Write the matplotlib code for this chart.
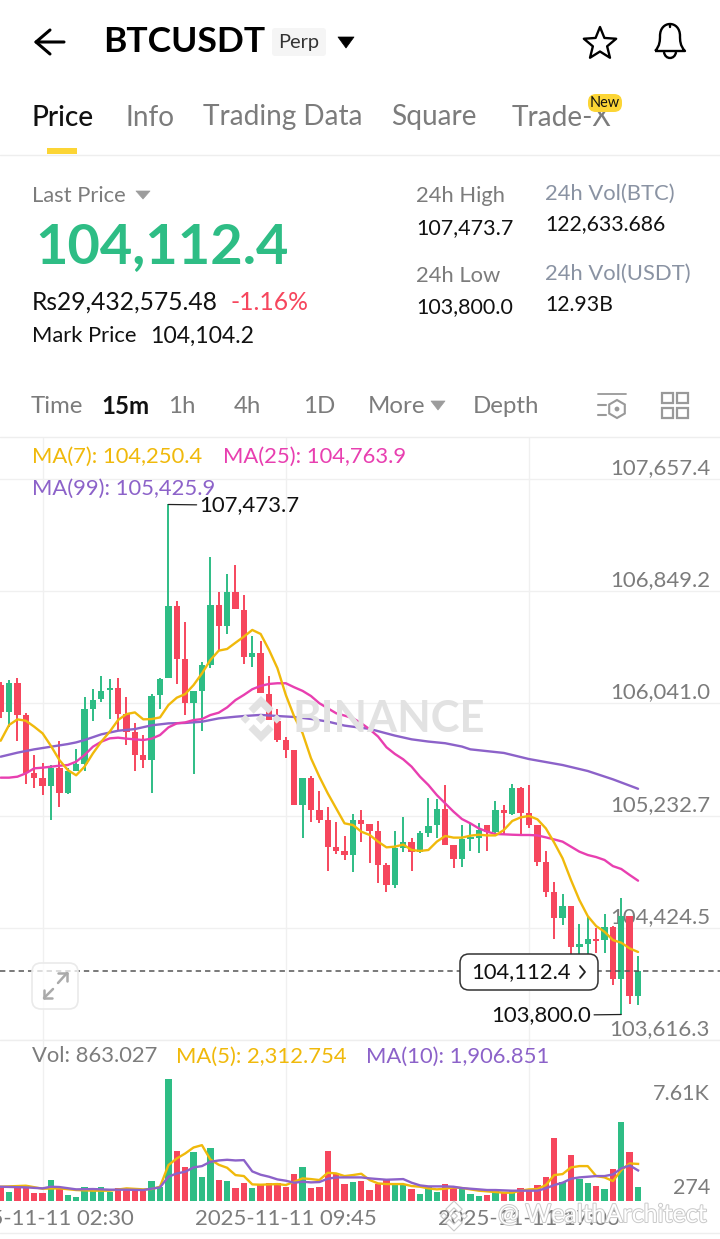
import numpy as np
import matplotlib
matplotlib.use("Agg")
import matplotlib.pyplot as plt
from matplotlib.patches import FancyBboxPatch, Polygon, PathPatch, Circle
from matplotlib.path import Path
import matplotlib.patheffects as pe

plt.rcParams['font.family'] = ['Lato', 'DejaVu Sans']

# ---------- data ----------
opens = [106173,105981,106190,105955,105542,105501,105446,105578,105398,105554,105604,106000,106070,106137,106154,105964,105837,105669,105631,106099,
         106221,106740,106361,106046,106130,106317,106747,106598,106843,106716,106375,106404,106109,105917,105778,105706,105312,105502,105273,105199,
         105007,104980,104949,105199,105175,105122,104875,104733,105002,105045,104973,105105,105165,105283,105021,104918,105066,105074,105165,105117,
         105275,105244,105431,105249,105162,104898,104682,104497,104584,104288,104308,104344,104336,104432,104053,104512,103933]
highs = [106197,106209,106221,105969,105669,105609,105597,105772,105573,105710,106084,106147,106238,106219,106226,106089,105897,105813,106108,106221,
         107473.7,106778,106630,106128,106341,107098,106843,106970,107040,106822,106527,106493,106239,106001,105797,105706,105502,105518,105408,105295,
         105187,105086,105245,105273,105175,105192,104894,105122,105223,105074,105120,105360,105350,105451,105021,105163,105172,105177,105165,105340,
         105309,105460,105436,105455,105162,104980,104754,104665,104584,104452,104509,104420,104521,104440,104637,104512,104221]
lows = [105933,105873,105772,105458,105434,105379,105201,105297,105388,105554,105556,105916,106053,105926,105844,105741,105556,105573,105398,105998,
        106221,106181,105955,105532,105844,106293,106425,106541,106718,106325,106301,106114,105919,105766,105650,105312,105069,105185,105177,104836,
        104956,104913,104829,105040,104894,104750,104683,104714,104968,104836,104961,105081,105069,105021,104853,104865,104978,104961,104978,105093,
        105093,105237,105093,105146,104869,104644,104341,104444,104163,104228,104192,104240,104240,104012,103800.0,103873,103868]
closes = [105981,106190,105955,105542,105503,105446,105578,105398,105554,105604,106000,106065,106132,106152,105964,105837,105669,105633,106096,106217,
          106740,106363,106046,106128,106317,106747,106596,106843,106718,106375,106404,106114,105919,105778,105708,105312,105502,105276,105201,105009,
          104980,104949,105199,105175,105122,104880,104733,105002,105045,104973,105105,105160,105283,105021,104918,105064,105081,105129,105117,105275,
          105249,105431,105254,105165,104901,104682,104497,104584,104288,104305,104344,104332,104428,104053,104512,103933,104112.4]

ma7 = [105772,105885,105926,105916,105873,105825,105734,105633,105561,105523,105585,105681,105765,105837,105921,105964,105976,105926,105928,105940,
       106029,106082,106108,106173,106257,106353,106421,106433,106478,106522,106570,106541,106426,106294,106102,105946,105826,105646,105513,105393,
       105285,105177,105165,105117,105093,105045,105004,105009,105024,104985,104978,104985,105045,105086,105074,105074,105088,105095,105090,105090,
       105129,105194,105220,105230,105206,105141,105038,104925,104769,104625,104509,104437,104396,104336,104317,104276,104250.4]
ma25 = [105506,105506,105513,105537,105573,105578,105585,105592,105597,105621,105669,105729,105765,105789,105794,105787,105782,105777,105787,105813,
        105868,105897,105904,105921,105928,105957,105974,106012,106065,106102,106143,106167,106181,106186,106186,106157,106131,106094,106042,106006,
        105970,105953,105934,105898,105854,105802,105725,105677,105638,105585,105513,105453,105381,105321,105261,105208,105177,105141,105117,105100,
        105098,105095,105093,105093,105090,105076,105061,105045,105009,104973,104949,104934,104913,104869,104848,104805,104763.9]
ma99_idx = [0,2,4,6,8,9,10,12,14,16,18,20,22,24,26,28,29,31,33,35,37,39,41,44,47,49,51,53,55,56,60,63,67,70,73,76]
ma99 = [105657,105686,105710,105729,105748,105760,105777,105818,105844,105856,105883,105897,105900,105909,105933,105945,105950,105958,105950,105943,
        105929,105910,105881,105857,105809,105782,105766,105754,105730,105710,105684,105640,105597,105554,105494,105425.9]

volumes = [891,580,891,974,477,518,1306,850,394,269,850,726,850,560,788,788,684,643,1265,850,
           7610,3089,2094,3047,1472,3296,1285,1244,808,1099,788,995,1099,1099,891,1658,2114,829,891,3089,
           1679,1036,1202,1223,684,1036,1306,1036,995,726,435,850,560,1036,891,788,456,332,394,726,
           580,643,808,643,995,1513,3918,1202,2861,1389,1119,954,767,1990,4934,3027,863.027]
ma5_idx = [0,3,5,7,9,11,13,15,17,18,19,20,21,22,23,24,25,26,27,28,29,30,31,32,33,34,35,36,37,38,39,40,41,42,43,44,45,46,48,49,50,51,52,53,54,55,56,57,58,59,60,61,62,63,64,65,66,67,68,69,70,71,72,73,74,75,76]
ma5 = [891,954,767,788,684,643,643,788,726,746,891,2239,2653,2964,3338,3483,2591,2260,2073,1617,1555,1036,1016,1036,1057,995,1202,1410,1368,1306,1762,1721,1555,1617,1700,1306,1099,1057,1057,933,891,788,726,767,850,808,726,643,601,560,518,518,643,726,746,995,1617,1679,2094,2177,2177,1555,1472,1244,1928,2343,2312.754]
ma10_idx = [0,3,5,6,7,9,11,13,15,17,19,20,21,22,23,24,25,26,27,28,29,30,31,32,33,34,35,36,37,38,39,40,43,44,45,46,47,48,49,50,51,53,54,55,56,57,58,59,60,61,64,65,66,67,68,69,70,71,72,73,74,75,76]
ma10 = [891,850,788,891,871,726,746,705,705,684,850,1513,1721,1824,2094,2177,2446,2529,2571,2529,2550,1845,1638,1513,1347,1265,1140,1202,1161,1182,1389,1472,1472,1410,1368,1327,1347,1368,1140,974,912,912,891,808,767,726,684,684,663,643,643,788,995,1140,1389,1472,1513,1555,1555,1658,2032,2218,1906.851]

price_ticks = [107657.4, 106849.2, 106041.0, 105232.7, 104424.5, 103616.3]
vol_tick_labels = ["7.61K", "274"]
date_tick_idx = [5, 34, 63]
date_labels = ["2025-11-11 02:30", "2025-11-11 09:45", "2025-11-11 17:00"]
last_price = 104112.4
high_price = 107473.7
low_price = 103800.0

GREEN = '#2ebd85'; RED = '#f6465d'; YELLOW = '#f0b90b'; PINK = '#e83fb0'; PURPLE = '#8c62c9'
GRAY = '#7c7c7c'; GRID = '#f0f0f0'

W, H = 720, 1239
fig = plt.figure(figsize=(W/100, H/100), dpi=100, facecolor='white')

def box(top, bottom):
    return [0, 1 - bottom/H, 1, (bottom-top)/H]

# ---------- price axes ----------
xlim = (-0.08, 85.77)
y_per_px = 808.2/112.2
ax = fig.add_axes(box(437, 1040), facecolor='none')
ax.set_xlim(*xlim)
ax.set_ylim(103616.3, 103616.3 + 603*y_per_px)
x = np.arange(len(closes))
colors = [GREEN if c >= o else RED for o, c in zip(opens, closes)]
for t in price_ticks:
    ax.axhline(t, color=GRID, lw=1, zorder=1)
for t in date_tick_idx:
    ax.axvline(t, color=GRID, lw=1, zorder=1)
for t in price_ticks:
    ax.annotate(f"{t:,.1f}", (1, t), xycoords=('axes fraction', 'data'), xytext=(-10/1.389, 11/1.389),
                textcoords='offset points', ha='right', va='center', fontsize=15.9, color=GRAY, zorder=2)
ax.vlines(x, lows, highs, colors=colors, lw=1.4, zorder=3)
body_bottom = np.minimum(opens, closes)
body_height = np.maximum(np.abs(np.array(closes)-np.array(opens)), 4)
ax.bar(x, body_height, bottom=body_bottom, width=0.76, color=colors, zorder=4)
ax.plot(ma99_idx, ma99, color=PURPLE, lw=1.7, zorder=5, solid_capstyle='round')
ax.plot(x, ma25, color=PINK, lw=1.7, zorder=6, solid_capstyle='round')
ax.plot(x, ma7, color=YELLOW, lw=1.7, zorder=7, solid_capstyle='round')
ax.axhline(last_price, color='#555555', lw=1.1, dashes=(3.5, 2.6), zorder=8)
ax.annotate(f"{high_price:,.1f}", (20, high_price), xytext=(31/1.389, -1/1.389), textcoords='offset points',
            ha='left', va='center', fontsize=15.9, color='#111111', zorder=9,
            arrowprops=dict(arrowstyle='-', color='#222222', lw=0.9, shrinkA=0, shrinkB=0))
ax.annotate(f"{low_price:,.1f}", (74, low_price), xytext=(-30/1.389, -1/1.389), textcoords='offset points',
            ha='right', va='center', fontsize=15.9, color='#111111', zorder=9,
            arrowprops=dict(arrowstyle='-', color='#222222', lw=0.9, shrinkA=0, shrinkB=0))
ax.axis('off')

# ---------- volume axes ----------
vax = fig.add_axes(box(1040, 1201), facecolor='none')
vax.set_xlim(*xlim)
vax.set_ylim(0, 161*7610/122)
for t in date_tick_idx:
    vax.axvline(t, color=GRID, lw=1, zorder=1)
vax.bar(x, volumes, width=0.76, color=colors, zorder=3)
vax.plot(ma10_idx, ma10, color=PURPLE, lw=1.7, zorder=5)
vax.plot(ma5_idx, ma5, color=YELLOW, lw=1.7, zorder=4)
vax.axis('off')
for t, s in zip(date_tick_idx, date_labels):
    vax.annotate(s, (t, 0), xytext=(0, -18/1.389), textcoords='offset points', ha='center', va='center',
                 fontsize=15.9, color=GRAY, annotation_clip=False)

# ---------- page layer in pixel coordinates ----------
ui = fig.add_axes([0, 0, 1, 1], facecolor='none')
ui.set_xlim(0, W); ui.set_ylim(H, 0); ui.axis('off')

def T(x, y, s, px, color='#111111', weight='normal', ha='left', **kw):
    return ui.text(x, y + 1.5, s, fontsize=px*0.72, color=color, fontweight=weight, ha=ha, va='center', **kw)

def L(xs, ys, color='black', lw=1.5, **kw):
    ui.plot(xs, ys, color=color, lw=lw, solid_capstyle='round', solid_joinstyle='round', **kw)

def tri(pts, color):
    ui.add_patch(Polygon(pts, closed=True, fc=color, ec=color, lw=0.5, joinstyle='round'))

def rbox(x0, y0, x1, y1, r, fc, ec='none', lw=1, z=3):
    ui.add_patch(FancyBboxPatch((x0, y0), x1-x0, y1-y0, boxstyle=f"round,pad=0,rounding_size={r}",
                                fc=fc, ec=ec, lw=lw, zorder=z))

def logo(cx, cy, r, fc, ec='none', lw=0, z=1):
    s = r/22
    shapes = [[(0,-22),(12,-10),(7,-5),(0,-12),(-7,-5),(-12,-10)],
              [(0,22),(12,10),(7,5),(0,12),(-7,5),(-12,10)],
              [(-15,-4.5),(-10.5,0),(-15,4.5),(-19.5,0)],
              [(15,-4.5),(10.5,0),(15,4.5),(19.5,0)],
              [(0,-5),(5,0),(0,5),(-5,0)]]
    for sh in shapes:
        ui.add_patch(Polygon([(cx+a*s, cy+b*s) for a, b in sh], closed=True, fc=fc, ec=ec, lw=lw, zorder=z))

# header
L([64, 36, 50], [42, 42, 30], lw=2.2); L([36, 50], [42, 54], lw=2.2)
T(103, 41, "BTCUSDT", 35.5, 'black', 'bold')
rbox(272, 28, 326, 56, 3, '#f5f5f5')
T(299, 41, "Perp", 20, '#333333', ha='center', zorder=4)
tri([(338, 37), (354, 37), (346, 48)], 'black')
ang = np.deg2rad(np.arange(0, 360, 36) - 90)
rad = np.where(np.arange(10) % 2 == 0, 17, 7.5)
ui.add_patch(Polygon(np.c_[600 + rad*np.cos(ang), 44 + rad*np.sin(ang)], closed=True, fc='none', ec='black', lw=1.7, joinstyle='round'))
bell = Path([(655, 51), (660, 46), (660, 40), (660, 36), (660, 20), (680, 20), (680, 36), (680, 40), (680, 46), (685, 51), (655, 51)],
            [Path.MOVETO, Path.CURVE4, Path.CURVE4, Path.CURVE4, Path.CURVE4, Path.CURVE4, Path.CURVE4, Path.CURVE4, Path.CURVE4, Path.CURVE4, Path.LINETO])
ui.add_patch(PathPatch(bell, fc='none', ec='black', lw=1.7, joinstyle='round'))
L([670, 670], [25, 27], lw=1.7)
ui.add_patch(PathPatch(Path([(664, 52), (665, 60), (675, 60), (676, 52)], [Path.MOVETO, Path.CURVE4, Path.CURVE4, Path.CURVE4]), fc='none', ec='black', lw=1.7))

# tabs
for tx, s, c in [(31, "Price", '#111111'), (125, "Info", GRAY), (203, "Trading Data", GRAY), (391, "Square", GRAY), (512, "Trade-X", GRAY)]:
    T(tx, 116, s, 28, c, 'medium' if c != GRAY else 'normal')
rbox(588, 94, 622, 112, 8, '#fcd535', z=4)
T(605, 101.5, "New", 14.5, '#111111', ha='center', zorder=5)
ui.add_patch(plt.Rectangle((47, 148), 30, 6, fc='#fcd535', ec='none'))
L([0, 720], [155, 155], '#eeeeee', 1)
L([0, 720], [436.5, 436.5], '#eeeeee', 1)
L([0, 720], [1040, 1040], '#eeeeee', 1)
L([0, 720], [1233, 1233], '#eeeeee', 1)

# summary
T(32, 195, "Last Price", 22, GRAY)
tri([(136, 191), (150, 191), (143, 199)], '#9c9c9c')
T(35, 246, f"{last_price:,.1f}", 56, GREEN, 'bold')
T(32, 301, "Rs29,432,575.48", 24.6, '#111111')
T(230, 301, "-1.16%", 24.6, RED)
T(32, 335, "Mark Price", 22, '#111111')
T(150, 335, "104,104.2", 23, '#111111')
T(416, 195, "24h High", 22, GRAY)
T(416, 226.5, f"{high_price:,.1f}", 21.5, '#111111')
T(416, 275, "24h Low", 22, GRAY)
T(416, 306, f"{low_price:,.1f}", 21.5, '#111111')
T(545, 192.5, "24h Vol(BTC)", 22, '#8a93a3')
T(545, 223, "122,633.686", 21.3, '#111111')
T(545, 272, "24h Vol(USDT)", 22, '#8a93a3')
T(545, 303.5, "12.93B", 21.3, '#111111')

# interval row
for tx, s, c, w in [(31, "Time", GRAY, 'normal'), (101, "15m", '#111111', 'bold'), (168, "1h", GRAY, 'normal'), (234, "4h", GRAY, 'normal'),
                    (303, "1D", GRAY, 'normal'), (368, "More", GRAY, 'normal'), (473, "Depth", GRAY, 'normal')]:
    T(tx, 405, s, 24, c, w)
tri([(431, 401), (445, 401), (438, 410)], '#9c9c9c')
ICON = '#999999'
L([598, 626], [394, 394], ICON, 1.3); L([598, 606], [405, 405], ICON, 1.5); L([598, 606], [415, 415], ICON, 1.5)
hang = np.deg2rad(np.arange(0, 360, 60) + 30)
ui.add_patch(Polygon(np.c_[617 + 9*np.cos(hang), 409 + 9*np.sin(hang)], closed=True, fc='none', ec=ICON, lw=1.5))
ui.add_patch(Circle((617, 409), 2.4, fc=ICON, ec='none'))
for gx in (662, 677):
    for gy in (393, 408):
        ui.add_patch(plt.Rectangle((gx, gy), 11, 10, fc='none', ec=ICON, lw=1.6))

# indicator captions
T(32, 455, "MA(7): 104,250.4", 22, YELLOW)
T(223, 455, "MA(25): 104,763.9", 22, PINK)
T(32, 487, "MA(99): 105,425.9", 22, PURPLE)
T(32, 1055, "Vol: 863.027", 22, GRAY)
T(176, 1055, "MA(5): 2,312.754", 22, YELLOW)
T(366, 1055, "MA(10): 1,906.851", 22, PURPLE)
T(710, 1093, vol_tick_labels[0], 21.5, GRAY, ha='right')
T(710, 1186, vol_tick_labels[1], 21.5, GRAY, ha='right')

# watermark
WM = '#e2e2e2'
T(293, 717, "BINANCE", 43.5, WM, 'bold', zorder=1)
logo(261, 719, 23, WM)

# last price tag
rbox(460, 954, 598, 990, 9, 'white', '#333333', 1.1, z=6)
T(471, 971, f"{last_price:,.1f}", 22, '#111111', zorder=7)
L([580, 585, 580], [966, 972, 978], '#222222', 1.3, zorder=7)

# expand button
rbox(32, 963, 78, 1009, 9, (1, 1, 1, 0.75), '#eaeaea', 1.2, z=6)
AR = '#aaaaaa'
L([44, 53], [998, 989], AR, 1.8, zorder=7); L([58, 67], [983, 973], AR, 1.8, zorder=7)
L([44, 44], [990, 998], AR, 1.8, zorder=7); L([44, 52], [998, 998], AR, 1.8, zorder=7)
L([58, 67], [973, 973], AR, 1.8, zorder=7); L([67, 67], [973, 981], AR, 1.8, zorder=7)

# bottom account mark
stroke = [pe.withStroke(linewidth=1.4, foreground='#c9c9c9')]
t = T(498, 1213, "@ WealthArchitect", 25, 'white', zorder=9)
t.set_path_effects(stroke)
logo(454, 1216, 15, 'white', '#c9c9c9', 0.8, 9)

fig.savefig('out.png', dpi=100)
